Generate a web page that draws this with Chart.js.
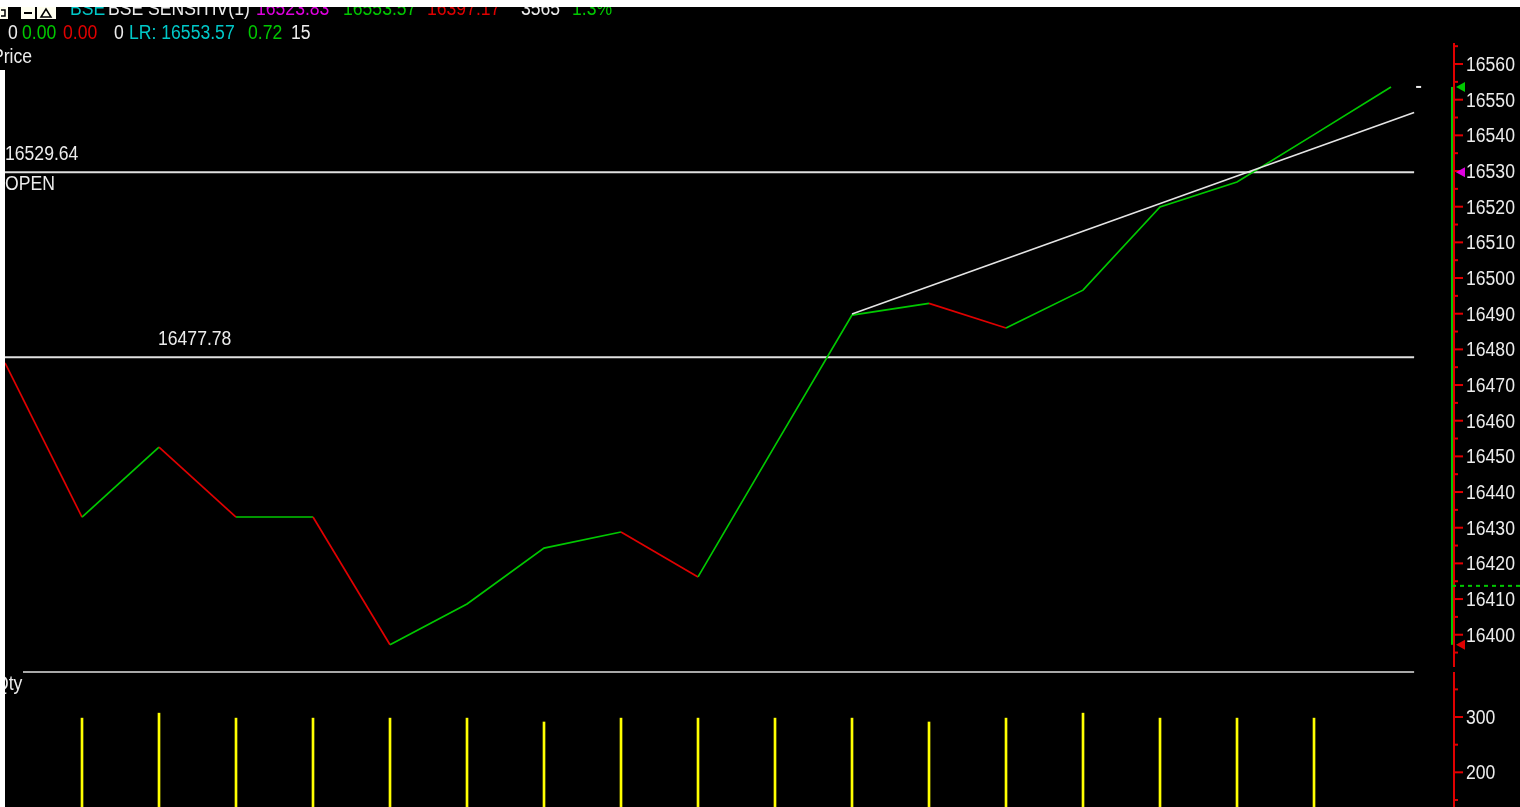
<!DOCTYPE html>
<html><head><meta charset="utf-8">
<script src="https://cdn.jsdelivr.net/npm/chart.js@4.4.1/dist/chart.umd.min.js"></script>
<style>
html,body{margin:0;padding:0;background:#000;overflow:hidden;}
#wrap{position:relative;width:1520px;height:807px;background:#000;}
canvas{position:absolute;left:0;}
#c1{top:0}
#c2{top:670px}
</style></head><body>
<div id="wrap"><canvas id="c1" width="1520" height="670"></canvas><canvas id="c2" width="1520" height="137"></canvas></div>
<script>
// ---- data ----
const barIndex = [0,1,2,3,4,5,6,7,8,9,10,11,12,13,14,15,16,17,18];
const closeValues = [16476.2,16433.0,16452.6,16433.0,16433.0,16397.2,16408.6,16424.3,16428.8,16416.2,16453.0,16489.6,16492.9,16486.0,16496.6,16519.9,16526.9,16540.2,16553.57];
const volumeIndex = [1,2,3,4,5,6,7,8,9,10,11,12,13,14,15,16,17];
const volumeValues = [298,307,298,298,298,298,291,298,298,298,298,291,298,307,298,298,298];
const priceTickLabels = [16400,16410,16420,16430,16440,16450,16460,16470,16480,16490,16500,16510,16520,16530,16540,16550,16560];
const volumeTickLabels = [200,300];
const openLevel = 16529.64;
const prevCloseLevel = 16477.78;
const levelSpanX = [0, 18.3];
const lrX = [11, 18.3];
const lrY = [16489.9, 16546.4];
const dayLow = 16397.17;
const lastPrice = 16553.57;
const dashedLevel = 16413.7;

const FONT = '"Liberation Sans","Arial",sans-serif';
const SX = 0.88;
const GREEN = '#00c800', RED = '#e00000', WHITE = '#ececec';

const xScale = {type:'linear', min:0, max:18.818, display:false, offset:false, grid:{offset:false}};

function drawText(ctx, t, x, y, color){
  ctx.save(); ctx.translate(x, y); ctx.scale(SX, 1);
  ctx.font = '20px ' + FONT; ctx.textAlign='left'; ctx.textBaseline='alphabetic';
  ctx.fillStyle = color; ctx.fillText(t, 0, 0); ctx.restore();
}
function drawAxis(ctx, chart, scale, labels){
  const a = chart.chartArea, ax = a.right;
  ctx.strokeStyle = RED; ctx.lineWidth = 2;
  scale.ticks.forEach(t => {
    const py = scale.getPixelForValue(t.value);
    const major = labels.includes(t.value);
    ctx.beginPath(); ctx.moveTo(ax, py); ctx.lineTo(ax + (major ? 9 : 4), py); ctx.stroke();
    if (major) drawText(ctx, String(t.value), ax + 12, py + 7, WHITE);
  });
}

const priceDecor = {
  id:'priceDecor',
  beforeDraw(chart){
    const ctx = chart.ctx; ctx.save(); ctx.fillStyle='#000'; ctx.fillRect(0,0,chart.width,chart.height); ctx.restore();
  },
  afterDraw(chart){
    const {ctx, chartArea:a, scales:{x, y}} = chart;
    ctx.save();
    // level labels
    const yo = y.getPixelForValue(openLevel), yp = y.getPixelForValue(prevCloseLevel);
    drawText(ctx, openLevel.toFixed(2), 5, yo-12, WHITE);
    drawText(ctx, 'OPEN', 5, yo+18, WHITE);
    drawText(ctx, prevCloseLevel.toFixed(2), 158, yp-12, WHITE);
    drawText(ctx, 'Price', -8, 63, WHITE);
    // header row 2
    drawText(ctx, '0', 8, 39, WHITE);
    drawText(ctx, '0.00', 22, 39, GREEN);
    drawText(ctx, '0.00', 63, 39, RED);
    drawText(ctx, '0', 114, 39, WHITE);
    drawText(ctx, 'LR: 16553.57', 129, 39, '#00c8c8');
    drawText(ctx, '0.72', 248, 39, GREEN);
    drawText(ctx, '15', 291, 39, WHITE);
    // header row 1 (cut off at the top)
    drawText(ctx, 'BSE', 70, 15, '#00c8c8');
    drawText(ctx, 'BSE SENSITIV(1)', 108, 15, WHITE);
    drawText(ctx, '16523.83', 256, 15, '#e000e0');
    drawText(ctx, '16553.57', 343, 15, GREEN);
    drawText(ctx, '16397.17', 427, 15, RED);
    drawText(ctx, '3565', 521, 15, WHITE);
    drawText(ctx, '1.3%', 572, 15, GREEN);
    ctx.fillStyle='#fff'; ctx.fillRect(0,0,chart.width,7);
    // icons
    ctx.fillStyle='#fffff0';
    ctx.fillRect(0,7,8,12); ctx.fillRect(21,7,14,12); ctx.fillRect(37,7,19,12);
    ctx.fillStyle='#000'; ctx.fillRect(24,12,8,2);
    ctx.strokeStyle='#000'; ctx.lineWidth=1.5;
    ctx.beginPath(); ctx.moveTo(41,17); ctx.lineTo(46,9); ctx.lineTo(51,17); ctx.closePath(); ctx.stroke();
    ctx.beginPath(); ctx.moveTo(1,10); ctx.lineTo(5,10); ctx.lineTo(5,16); ctx.lineTo(1,16); ctx.stroke();
    // right axis
    const ax = a.right;
    const yl = y.getPixelForValue(lastPrice), ylow = y.getPixelForValue(dayLow);
    ctx.fillStyle = GREEN; ctx.fillRect(ax-3, yl, 2, ylow-yl);
    ctx.strokeStyle = RED; ctx.lineWidth = 2;
    ctx.beginPath(); ctx.moveTo(ax, a.top-2); ctx.lineTo(ax, a.bottom); ctx.stroke();
    drawAxis(ctx, chart, y, priceTickLabels);
    // dashed level
    const yd = y.getPixelForValue(dashedLevel);
    ctx.strokeStyle = GREEN; ctx.lineWidth = 2; ctx.setLineDash([4,4]);
    ctx.beginPath(); ctx.moveTo(ax-2, yd); ctx.lineTo(chart.width, yd); ctx.stroke(); ctx.setLineDash([]);
    // markers
    const tri = (py, col) => { ctx.fillStyle = col; ctx.beginPath(); ctx.moveTo(ax+2, py); ctx.lineTo(ax+11, py-5); ctx.lineTo(ax+11, py+5); ctx.closePath(); ctx.fill(); };
    tri(yl, GREEN); tri(yo, '#e000e0'); tri(ylow, RED);
    // last price dash
    const xe = x.getPixelForValue(levelSpanX[1]);
    ctx.fillStyle = WHITE; ctx.fillRect(xe+2, yl-1, 5, 2);
    // left border
    ctx.fillStyle='#fff'; ctx.fillRect(0,70,5,chart.height-70);
    ctx.restore();
  }
};

const volDecor = {
  id:'volDecor',
  beforeDraw(chart){
    const ctx = chart.ctx; ctx.save(); ctx.fillStyle='#000'; ctx.fillRect(0,0,chart.width,chart.height); ctx.restore();
  },
  afterDraw(chart){
    const {ctx, chartArea:a, scales:{x, y}} = chart;
    ctx.save();
    ctx.strokeStyle = '#a8a8a8'; ctx.lineWidth = 2;
    ctx.beginPath(); ctx.moveTo(23, a.top); ctx.lineTo(x.getPixelForValue(levelSpanX[1]), a.top); ctx.stroke();
    drawText(ctx, 'Qty', -5, 20, WHITE);
    const ax = a.right;
    ctx.strokeStyle = RED; ctx.lineWidth = 2;
    ctx.beginPath(); ctx.moveTo(ax, a.top); ctx.lineTo(ax, a.bottom); ctx.stroke();
    drawAxis(ctx, chart, y, volumeTickLabels);
    ctx.fillStyle='#fff'; ctx.fillRect(0,0,5,chart.height);
    ctx.restore();
  }
};

function rightAxis(min, max, step){
  return {
    position:'right', min, max,
    grid:{display:false, drawTicks:false}, border:{display:false},
    ticks:{display:false, autoSkip:false},
    afterBuildTicks:(s)=>{ const t=[]; for(let v=Math.ceil(min/step)*step; v<=max; v+=step) t.push({value:v}); s.ticks=t; },
    afterFit:(s)=>{ s.width = 66; s.paddingTop = 0; s.paddingBottom = 0; }
  };
}

new Chart(document.getElementById('c1'), {
  type:'line',
  data:{datasets:[
    {data: lrX.map((x,i)=>({x, y:lrY[i]})), borderColor:'#e4e4e4', borderWidth:1.6, pointRadius:0, order:0},
    {data: barIndex.map((x,i)=>({x, y:closeValues[i]})), borderWidth:1.7, pointRadius:0, order:1,
      borderColor:GREEN,
      segment:{borderColor: c => c.p1.parsed.y >= c.p0.parsed.y ? GREEN : RED}},
    {data: levelSpanX.map(x=>({x, y:openLevel})), borderColor:'#e0e0e0', borderWidth:2, pointRadius:0, order:2},
    {data: levelSpanX.map(x=>({x, y:prevCloseLevel})), borderColor:'#e0e0e0', borderWidth:2, pointRadius:0, order:2}
  ]},
  options:{
    responsive:false, animation:false, devicePixelRatio:1,
    layout:{padding:{left:5, top:45, bottom:3, right:0}},
    plugins:{legend:{display:false}, tooltip:{enabled:false}},
    scales:{ x: xScale, y: rightAxis(16390.95, 16565.33, 5) }
  },
  plugins:[priceDecor]
});

new Chart(document.getElementById('c2'), {
  type:'bar',
  data:{datasets:[
    {data: volumeIndex.map((x,i)=>({x, y:volumeValues[i]})), backgroundColor:'#ffff00', barThickness:2}
  ]},
  options:{
    responsive:false, animation:false, devicePixelRatio:1,
    layout:{padding:{left:5, top:2, bottom:0, right:0}},
    plugins:{legend:{display:false}, tooltip:{enabled:false}},
    scales:{ x: xScale, y: rightAxis(137.3, 381.4, 50) }
  },
  plugins:[volDecor]
});
</script>
</body></html>
